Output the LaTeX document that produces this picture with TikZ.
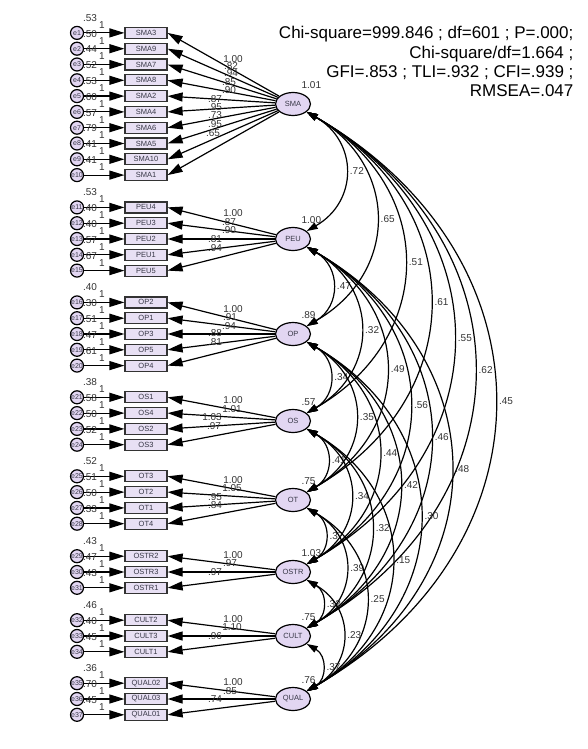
\documentclass[tikz,border=0pt]{standalone}
\usepackage{fontspec}
\setmainfont{Liberation Sans}
\usetikzlibrary{arrows.meta, shapes.geometric}
\definecolor{lav}{RGB}{226,214,242}
\definecolor{boxfill}{RGB}{232,224,244}
\definecolor{txtgrey}{RGB}{55,55,70}
\begin{document}
\begin{tikzpicture}[x=1pt, y=-1pt, line width=1.2pt,
    factor/.style = {draw, ellipse, fill=lav, minimum width=35pt, minimum height=23pt, inner sep=0pt, font=\fontsize{7.5}{8}\selectfont, text=txtgrey},
    ind/.style = {draw=black!80, fill=boxfill, minimum width=42pt, minimum height=11pt, inner sep=0pt, font=\fontsize{7.5}{8}\selectfont, text=txtgrey},
    err/.style = {draw, circle, fill=lav, minimum size=13pt, inner sep=0pt, font=\fontsize{7}{7}\selectfont, text=txtgrey},
    lbl/.style = {inner sep=1pt, font=\fontsize{10}{10}\selectfont, text=black!80},
    reg/.style = {-{Triangle[length=15pt, width=9pt]}},
    cov/.style = {{Triangle[length=11pt, width=7pt]}-{Triangle[length=11pt, width=7pt]}}]
    \useasboundingbox (0,0) rectangle (587,749);

    % Fit statistics
    \node[anchor=base east, inner sep=0pt, font=\fontsize{17}{19}\selectfont] (stat1) at (574,39) {Chi-square=999.846 ; df=601 ; P=.000;};
    \node[anchor=base east, inner sep=0pt, font=\fontsize{17}{19}\selectfont] (stat2) at (574,59) {Chi-square/df=1.664 ;};
    \node[anchor=base east, inner sep=0pt, font=\fontsize{17}{19}\selectfont] (stat3) at (574,78) {GFI=.853 ; TLI=.932 ; CFI=.939 ;};
    \node[anchor=base east, inner sep=0pt, font=\fontsize{17}{19}\selectfont] (stat4) at (574,97) {RMSEA=.047};

    % Drawing the factors, their indicators and error terms
    \foreach \fac/\fy/\n/\efirst/\fvar/\items in {
        SMA/104/10/1/1.01/{SMA3/.53,SMA9/.50,SMA7/.44,SMA8/.52,SMA2/.53,SMA4/.60,SMA6/.57,SMA5/.79,SMA10/.41,SMA1/.41},
        PEU/239/5/11/1.00/{PEU4/.53,PEU3/.40,PEU2/.40,PEU1/.57,PEU5/.67},
        OP/334/5/16/.89/{OP2/.40,OP1/.30,OP3/.51,OP5/.47,OP4/.61},
        OS/421/4/21/.57/{OS1/.38,OS4/.58,OS2/.50,OS3/.52},
        OT/500/4/25/.75/{OT3/.52,OT2/.51,OT1/.50,OT4/.33},
        OSTR/572/3/29/1.03/{OSTR2/.43,OSTR3/.47,OSTR1/.43},
        CULT/636/3/32/.75/{CULT2/.46,CULT3/.40,CULT1/.45},
        QUAL/699/3/35/.76/{QUAL02/.36,QUAL03/.70,QUAL01/.45}}{
        \node[factor] (\fac) at (293,\fy) {\fac};
        \node[lbl, anchor=west] (\fac-var) at (300,\fy-19) {\fvar};
        \foreach \ind/\evar [count=\k] in \items {
            \pgfmathsetmacro{\ry}{\fy+(\k-(\n+1)/2)*15.8}
            \pgfmathtruncatemacro{\en}{\efirst+\k-1}
            \node[lbl] (v\en) at (90,\ry-15) {\evar};
            \node[err] (e\en) at (77,\ry) {e\en};
            \node[ind] (\ind) at (146,\ry) {\ind};
            \node[lbl] (one\en) at (102,\ry-8) {1};
            \draw[reg] (e\en) -- (\ind);
            \draw[reg] (\fac) -- (\ind.east);
          }
      }

    % Regression weights
    \foreach \lx/\ly/\lv [count=\c] in {233/59/1.00, 231/66/.82, 231/73/.94, 229/82/.85, 229/90/.90,
        215/99/.87, 215/107/.95, 215/115/.73, 215/124/.95, 213/133/.65,
        233/213/1.00, 229/222/.87, 229/230/.90, 215/239/.81, 215/248/.94,
        233/309/1.00, 230/317/.91, 229/326/.94, 215/333/.88, 215/342/.81,
        233/400/1.00, 232/409/1.01, 212/417/1.03, 214/426/.97,
        233/480/1.00, 232/488/1.05, 215/497/.95, 215/505/.84,
        233/555/1.00, 230/563/.97, 215/572/.97,
        233/619/1.00, 232/627/1.10, 215/636/.96,
        233/682/1.00, 230/691/.85, 215/699/.74}{
        \node[lbl] (w\c) at (\lx,\ly) {\lv};
      }

    % Covariances between the factors
    \foreach \a/\b/\v [count=\c] in {SMA/PEU/.72, SMA/OP/.65, SMA/OS/.51, SMA/OT/.61, SMA/OSTR/.55, SMA/CULT/.62, SMA/QUAL/.45,
        PEU/OP/.47, PEU/OS/.32, PEU/OT/.49, PEU/OSTR/.56, PEU/CULT/.46, PEU/QUAL/.48,
        OP/OS/.34, OP/OT/.35, OP/OSTR/.44, OP/CULT/.42, OP/QUAL/.30,
        OS/OT/.41, OS/OSTR/.34, OS/CULT/.32, OS/QUAL/.15,
        OT/OSTR/.37, OT/CULT/.39, OT/QUAL/.25,
        OSTR/CULT/.32, OSTR/QUAL/.23,
        CULT/QUAL/.37}{
        \draw[cov] (\a) to[bend left=60, looseness=1.28] node[lbl, right=3pt, pos=0.5] (c\c) {\v} (\b);
      }
  \end{tikzpicture}
\end{document}
